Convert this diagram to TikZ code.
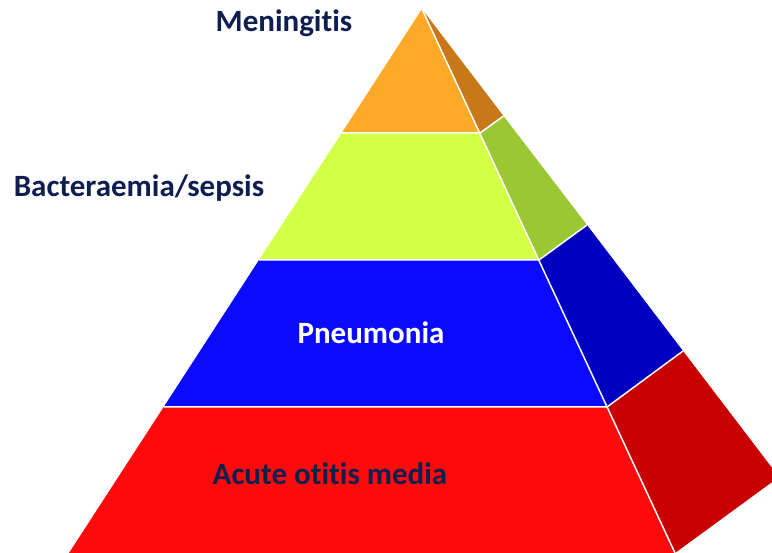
\documentclass[tikz,border=0pt]{standalone}
\usepackage{fontspec}
\setmainfont[Ligatures=NoCommon]{Carlito}
\definecolor{navy}{HTML}{0F1E50}
\definecolor{orF}{HTML}{FFA928}
\definecolor{orS}{HTML}{C87819}
\definecolor{grF}{HTML}{D4FF47}
\definecolor{grS}{HTML}{9BC832}
\definecolor{blF}{HTML}{0A0AFF}
\definecolor{blS}{HTML}{0000C0}
\definecolor{rdF}{HTML}{FF0A0A}
\definecolor{rdS}{HTML}{C80000}
\tikzset{
  lab/.style={anchor=base, inner sep=0pt, font=\fontsize{31}{33}\selectfont\bfseries, text=navy},
  sep/.style={draw=white, line width=1.5pt, line join=round}
}
\begin{document}
\begin{tikzpicture}[x=1pt,y=-1pt]
\useasboundingbox (0,0) rectangle (772,553);
\clip (0,0) rectangle (772,553);
\coordinate (A) at (422,9);
\coordinate (L1) at (341.7,133);
\coordinate (L2) at (259,260);
\coordinate (L3) at (163.7,407);
\coordinate (L4) at (69,553);
\coordinate (R1) at (480,133);
\coordinate (R2) at (539,260);
\coordinate (R3) at (607,407);
\coordinate (R4) at (675,553);
\coordinate (S1) at (503.5,116);
\coordinate (S2) at (587,225);
\coordinate (S3) at (683,351);
\coordinate (S4) at (779,477);
% front faces
\fill[orF] (A) -- (R1) -- (L1) -- cycle;
\fill[grF] (L1) -- (R1) -- (R2) -- (L2) -- cycle;
\fill[blF] (L2) -- (R2) -- (R3) -- (L3) -- cycle;
\fill[rdF] (L3) -- (R3) -- (R4) -- (L4) -- cycle;
% side faces
\fill[orS] (A) -- (S1) -- (R1) -- cycle;
\fill[grS] (R1) -- (S1) -- (S2) -- (R2) -- cycle;
\fill[blS] (R2) -- (S2) -- (S3) -- (R3) -- cycle;
\fill[rdS] (R3) -- (S3) -- (S4) -- (R4) -- cycle;
% white separators
\draw[sep] (L1) -- (R1) -- (S1);
\draw[sep] (L2) -- (R2) -- (S2);
\draw[sep] (L3) -- (R3) -- (S3);
\draw[sep] (A) -- (R4);
% labels
\node[lab] (men) at (284,31.7) {Meningitis};
\node[lab] (bac) at (139,196.7) {Bacteraemia/sepsis};
\node[lab, text=white] (pne) at (371,343.3) {Pneumonia};
\node[lab] (aom) at (330,485) {Acute otitis media};
\end{tikzpicture}
\end{document}
